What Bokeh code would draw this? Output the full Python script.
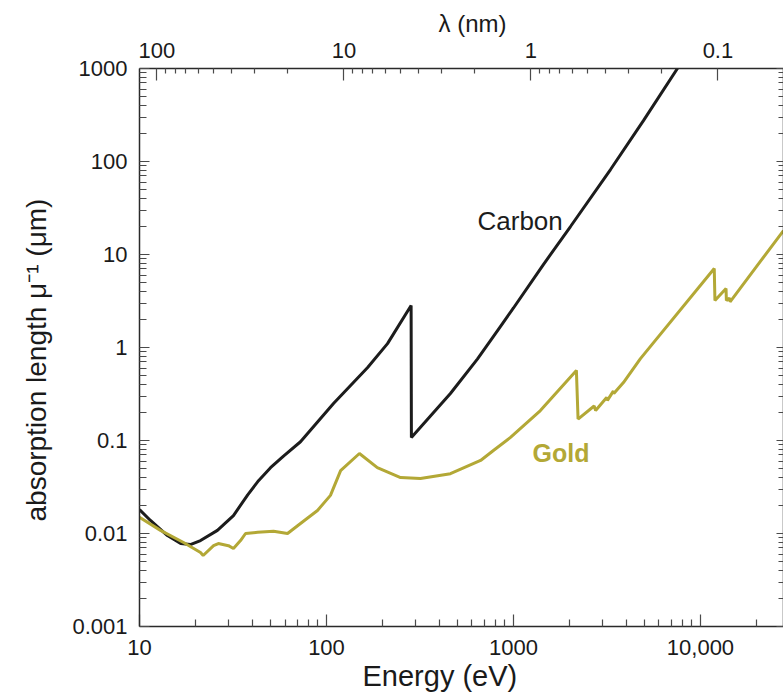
import numpy as np
from bokeh.plotting import figure
from bokeh.models import LogAxis, FixedTicker, CustomJSTickFormatter, Label, Range1d, Title
from bokeh.embed import file_html
from bokeh.resources import INLINE

HC = 1239.84  # eV * nm

# ---------------- data ----------------
carbon_energy = [10, 11.45, 14.1, 16.6, 18.7, 21.2, 26.1, 31.8, 37.9, 43.3, 50.2, 58.9,
                 72.6, 109, 166, 212, 283.5, 284.5, 460, 641, 851, 1000, 1445, 2018, 3303, 4955, 7530, 9000]
carbon_length = [0.0181, 0.0138, 0.0095, 0.0078, 0.0076, 0.0084, 0.0108, 0.0156, 0.026, 0.037, 0.051, 0.068,
                 0.097, 0.25, 0.61, 1.10, 2.83, 0.108, 0.32, 0.75, 1.68, 2.66, 7.8, 20, 82, 275, 1000, 1750]

gold_energy = [10, 12.95, 17.2, 21.2, 21.9, 24.9, 26.4, 29.9, 31.8, 34.7, 36.9, 42.8, 52.1, 61.9,
               72.6, 89.5, 105, 119, 150, 187, 249, 318, 460, 667, 781, 964, 1393, 2170, 2215,
               2700, 2750, 3150, 3180, 3420, 3440, 3873, 4775, 11850, 11950, 13700, 13760,
               14300, 14400, 27800]
gold_length = [0.0149, 0.0108, 0.0080, 0.00625, 0.0058, 0.0074, 0.0078, 0.0074, 0.0069, 0.0084, 0.010, 0.0103, 0.0106, 0.0100,
               0.0128, 0.0177, 0.0257, 0.0475, 0.0725, 0.051, 0.040, 0.039, 0.044, 0.061, 0.078, 0.108, 0.21, 0.567, 0.17,
               0.235, 0.21, 0.29, 0.27, 0.34, 0.32, 0.42, 0.76, 7.06, 3.2, 4.3, 3.2,
               3.4, 3.1, 18.1]

energy_ticks = [10, 100, 1000, 10000]
energy_labels = ["10", "100", "1000", "10,000"]
length_ticks = [0.001, 0.01, 0.1, 1, 10, 100, 1000]
length_labels = ["0.001", "0.01", "0.1", "1", "10", "100", "1000"]
lambda_ticks = [100, 10, 1, 0.1]
lambda_labels = ["100", "10", "1", "0.1"]

E_MIN, E_MAX = 10, 27800
L_MIN, L_MAX = 0.001, 1000

CARBON_COLOR = "#1c1c1c"
GOLD_COLOR = "#b3a836"
TEXT_COLOR = "#1a1a1a"
FONT = "Liberation Sans"

# frame geometry on the page (px)
FL, FR, FT, FB = 139, 783, 68, 626
W, H = 783, 698


def px_to_e(px):
    a, b = np.log10(E_MIN), np.log10(E_MAX)
    return float(10 ** (a + (px - FL) / (FR - FL) * (b - a)))


def py_to_l(py):
    a, b = np.log10(L_MIN), np.log10(L_MAX)
    return float(10 ** (b - (py - FT) / (FB - FT) * (b - a)))


top_title = Title(text="λ (nm)", align="left", offset=438 - FL, standoff=5,
                  text_font=FONT, text_font_size="24px", text_font_style="normal", text_color=TEXT_COLOR)

p = figure(width=W, height=H, x_axis_type="log", y_axis_type="log",
           x_range=Range1d(E_MIN, E_MAX), y_range=Range1d(L_MIN, L_MAX),
           output_backend="svg", toolbar_location=None, title=top_title,
           min_border_left=FL, min_border_right=W - FR, min_border_top=FT, min_border_bottom=H - FB)
p.xgrid.visible = False
p.ygrid.visible = False
p.outline_line_color = None
p.background_fill_color = "white"
p.border_fill_color = "white"

JS = """
for (let i = 0; i < vals.length; i++) {
  if (Math.abs(Math.log10(tick) - Math.log10(vals[i])) < 1e-6) return labs[i];
}
return "";
"""


def minors(decades, lo, hi):
    out = []
    for n in decades:
        for k in range(2, 10):
            v = k * 10.0 ** n
            if lo < v < hi:
                out.append(v)
    return out


def style(ax, major_in, minor_in, standoff, labels=True):
    ax.major_tick_in = major_in
    ax.major_tick_out = 0
    ax.minor_tick_in = minor_in
    ax.minor_tick_out = 0
    ax.axis_line_color = "#2a2a2a"
    ax.axis_line_width = 1.5
    ax.major_tick_line_color = "#4a4a4a"
    ax.major_tick_line_width = 1.2
    ax.minor_tick_line_color = "#4a4a4a"
    ax.minor_tick_line_width = 1.2
    ax.major_label_text_font = FONT
    ax.major_label_text_color = TEXT_COLOR
    ax.major_label_standoff = standoff
    ax.major_label_text_font_size = "22px" if labels else "0px"
    ax.axis_label = None


# bottom axis: energy
xa = p.below[0]
xa.ticker = FixedTicker(ticks=energy_ticks, minor_ticks=minors(range(1, 5), E_MIN, E_MAX))
xa.formatter = CustomJSTickFormatter(args=dict(vals=energy_ticks, labs=energy_labels), code=JS)
style(xa, 12, 7, 13)

# left axis: absorption length
ya = p.left[0]
ya.ticker = FixedTicker(ticks=length_ticks, minor_ticks=minors(range(-3, 3), L_MIN, L_MAX))
ya.formatter = CustomJSTickFormatter(args=dict(vals=length_ticks, labs=length_labels), code=JS)
style(ya, 10, 7, 12)

# top axis: wavelength
lam_major_e = [HC / l for l in lambda_ticks]
lam_minor_e = [HC / v for v in minors([1, 0, -1], 0.01, 1000)]
lam_minor_e = [e for e in lam_minor_e if E_MIN < e < E_MAX]
top = LogAxis(ticker=FixedTicker(ticks=lam_major_e, minor_ticks=lam_minor_e),
              formatter=CustomJSTickFormatter(args=dict(vals=lam_major_e, labs=lambda_labels), code=JS))
style(top, 12, 5, 11)
p.add_layout(top, "above")

# right axis: ticks only
right = LogAxis(ticker=FixedTicker(ticks=length_ticks, minor_ticks=minors(range(-3, 3), L_MIN, L_MAX)),
                formatter=CustomJSTickFormatter(code="return '';"))
style(right, 7, 5, 0, labels=False)
p.add_layout(right, "right")

# axis titles (bottom and left) as titles so they sit outside the frame
p.add_layout(Title(text="Energy (eV)", align="left", offset=362 - FL, standoff=0,
                   text_font=FONT, text_font_size="29px", text_font_style="normal",
                   text_color=TEXT_COLOR), "below")
p.add_layout(Title(text="absorption length μ⁻¹ (μm)", align="left", offset=FB - 521, standoff=36,
                   text_font=FONT, text_font_size="28px", text_font_style="normal",
                   text_color=TEXT_COLOR), "left")

# curves
p.line(carbon_energy, carbon_length, line_width=3, line_color=CARBON_COLOR)
p.line(gold_energy, gold_length, line_width=3, line_color=GOLD_COLOR)

# curve labels
p.add_layout(Label(x=px_to_e(477), y=py_to_l(220), text="Carbon", text_font=FONT,
                   text_font_size="26px", text_color=CARBON_COLOR, text_baseline="middle"))
p.add_layout(Label(x=px_to_e(532), y=py_to_l(452), text="Gold", text_font=FONT,
                   text_font_size="25px", text_font_style="bold", text_color=GOLD_COLOR,
                   text_baseline="middle"))

open("out.html", "w").write(file_html(p, INLINE))
